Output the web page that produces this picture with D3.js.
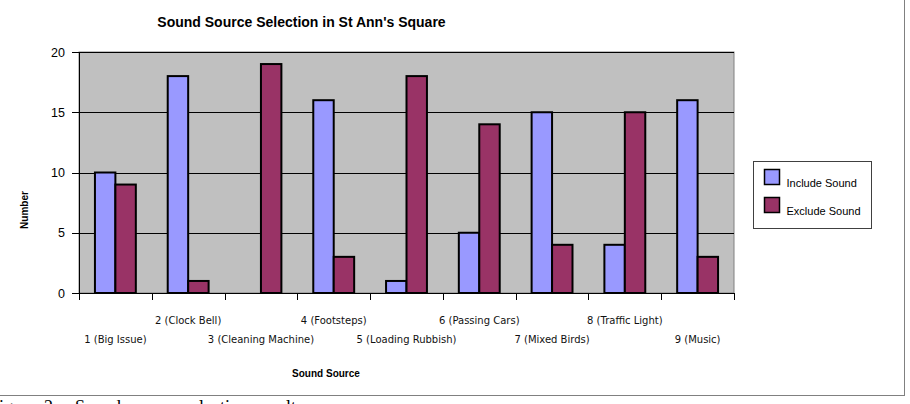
<!DOCTYPE html>
<html lang="en">
  <head>
    <meta charset="UTF-8">
    <title>Sound Source Selection in St Ann's Square</title>
    <style>
      body { margin: 0; background: #fff; }
      svg { display: block; }
      .axis path, .axis line { stroke: #000; shape-rendering: crispEdges; }
      .axis-y text { font-family: "Liberation Sans", Arial, sans-serif; font-size: 12.5px; fill: #000; }
      .axis-x text { font-family: "DejaVu Sans", Verdana, sans-serif; font-size: 10px; fill: #111; }
      .grid line { stroke: #000; shape-rendering: crispEdges; }
      .label { font-family: "Liberation Sans", Arial, sans-serif; font-weight: bold; fill: #000; }
      .legend text { font-family: "Liberation Sans", Arial, sans-serif; font-size: 11px; fill: #000; }
    </style>
    <script src="https://d3js.org/d3.v7.min.js"></script>
  </head>
  <body>
    <script>
      const categories = ["1 (Big Issue)", "2 (Clock Bell)", "3 (Cleaning Machine)", "4 (Footsteps)",
        "5 (Loading Rubbish)", "6 (Passing Cars)", "7 (Mixed Birds)", "8 (Traffic Light)", "9 (Music)"];
      const seriesNames = ["Include Sound", "Exclude Sound"];
      const includeValues = [10, 18, 0, 16, 1, 5, 15, 4, 16];
      const excludeValues = [9, 1, 19, 3, 18, 14, 4, 15, 3];
      const yTicks = [0, 5, 10, 15, 20];
      const colors = ["#9999ff", "#993366"];

      const width = 910;
      const height = 404;
      const plot = { left: 79, right: 734, top: 52, bottom: 293 };

      const svg = d3.select("body")
        .append("svg")
        .attr("width", width)
        .attr("height", height);

      // outer chart frame (top/left fall outside the picture)
      svg.append("rect")
        .attr("x", -2).attr("y", -2)
        .attr("width", 906.5).attr("height", 397.5)
        .attr("fill", "none")
        .attr("stroke", "#808080");

      const x0 = d3.scaleBand()
        .domain(categories)
        .range([plot.left, plot.right]);

      const x1 = d3.scaleBand()
        .domain(seriesNames)
        .range([0, x0.bandwidth()])
        .paddingOuter(0.78);

      const y = d3.scaleLinear()
        .domain([0, 20])
        .range([plot.bottom, plot.top]);

      // plot background
      svg.append("rect")
        .attr("x", plot.left).attr("y", plot.top)
        .attr("width", plot.right - plot.left)
        .attr("height", plot.bottom - plot.top)
        .attr("fill", "#c0c0c0")
        .attr("stroke", "#808080");

      svg.append("g")
        .attr("class", "grid")
        .selectAll("line")
        .data(yTicks.filter(d => d > 0))
        .enter()
        .append("line")
        .attr("x1", plot.left).attr("x2", plot.right)
        .attr("y1", d => Math.round(y(d)) + 0.5)
        .attr("y2", d => Math.round(y(d)) + 0.5);

      const rows = categories.map((c, i) => ({ cat: c, values: [includeValues[i], excludeValues[i]] }));

      svg.append("g")
        .selectAll("g")
        .data(rows)
        .enter()
        .append("g")
        .attr("transform", d => `translate(${x0(d.cat)},0)`)
        .selectAll("rect")
        .data(d => d.values.map((v, k) => ({ key: seriesNames[k], value: v, k })).filter(d => d.value > 0))
        .enter()
        .append("rect")
        .attr("x", d => x1(d.key))
        .attr("y", d => y(d.value))
        .attr("width", x1.bandwidth())
        .attr("height", d => y(0) - y(d.value))
        .attr("fill", d => colors[d.k])
        .attr("stroke", "#000")
        .attr("stroke-width", 2);

      // y axis
      svg.append("g")
        .attr("class", "axis axis-y")
        .attr("transform", `translate(${plot.left},0)`)
        .call(d3.axisLeft(y).tickValues(yTicks).tickSize(7).tickPadding(7).tickSizeOuter(0));

      // x axis boundary ticks
      const xb = d3.scaleLinear().domain([0, categories.length]).range([plot.left, plot.right]);
      svg.append("g")
        .attr("class", "axis")
        .attr("transform", `translate(0,${plot.bottom})`)
        .call(d3.axisBottom(xb).ticks(categories.length).tickSize(7).tickSizeOuter(0).tickFormat(""));

      // x category labels, staggered in two rows
      const xAxis = svg.append("g")
        .attr("class", "axis axis-x")
        .attr("transform", `translate(0,${plot.bottom})`)
        .call(d3.axisBottom(x0).tickSize(0));
      xAxis.select(".domain").remove();
      xAxis.selectAll(".tick text")
        .attr("dy", null)
        .attr("y", (d, i) => i % 2 === 0 ? 50 : 31);

      svg.append("text")
        .attr("class", "label")
        .attr("x", 301.5).attr("y", 27)
        .attr("text-anchor", "middle")
        .style("font-size", "14px")
        .text("Sound Source Selection in St Ann's Square");

      svg.append("text")
        .attr("class", "label")
        .attr("transform", "rotate(-90)")
        .attr("x", -210).attr("y", 28)
        .attr("text-anchor", "middle")
        .style("font-size", "10px")
        .text("Number");

      svg.append("text")
        .attr("class", "label")
        .attr("x", 326).attr("y", 377)
        .attr("text-anchor", "middle")
        .style("font-size", "10px")
        .text("Sound Source");

      // legend
      const legend = svg.append("g")
        .attr("class", "legend")
        .attr("transform", "translate(753.5,161.5)");
      legend.append("rect")
        .attr("width", 118).attr("height", 67)
        .attr("fill", "#fff")
        .attr("stroke", "#404040");
      const item = legend.selectAll(".item")
        .data(seriesNames)
        .enter()
        .append("g")
        .attr("transform", (d, i) => `translate(11,${8 + i * 28})`);
      item.append("rect")
        .attr("width", 15).attr("height", 15)
        .attr("fill", (d, i) => colors[i])
        .attr("stroke", "#000")
        .attr("stroke-width", 1.5);
      item.append("text")
        .attr("x", 22).attr("y", 17)
        .text(d => d);

      // caption of the document, cut by the picture edge
      svg.append("text")
        .attr("x", -11).attr("y", 413)
        .style("font-family", "'Liberation Serif', 'Times New Roman', serif")
        .style("font-size", "18px")
        .style("word-spacing", "3.5px")
        .text("Figure 2 - Sound source selection results");
    </script>
  </body>
</html>
